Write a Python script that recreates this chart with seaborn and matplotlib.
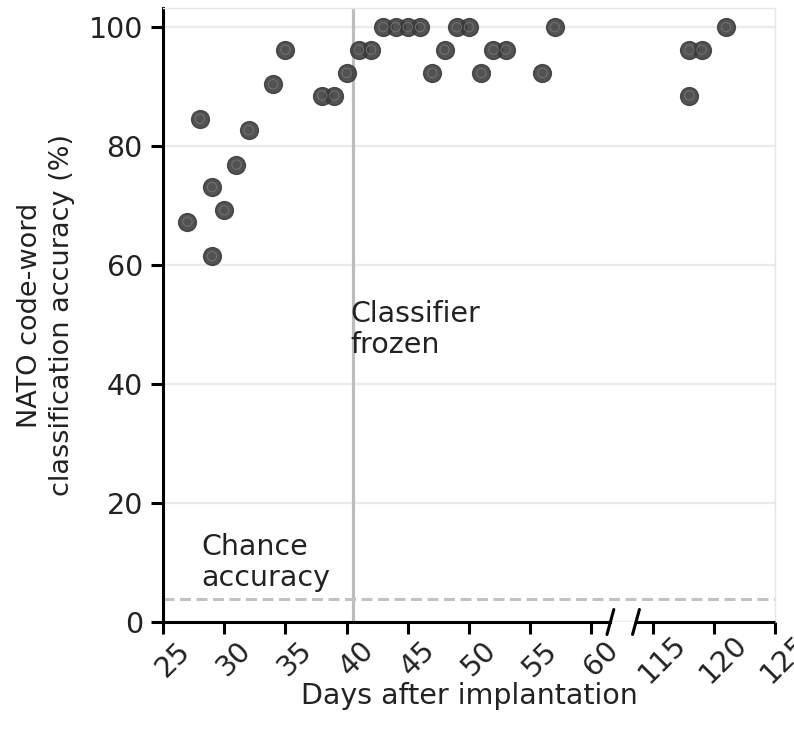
import numpy as np
import pandas as pd
import seaborn as sns
import matplotlib
matplotlib.use("Agg")
import matplotlib.pyplot as plt

# ---- data ----
days = [27, 28, 29, 29, 30, 31, 32, 34, 35, 38, 39, 40, 41, 42, 43, 44, 45, 46,
        47, 48, 49, 50, 51, 52, 53, 56, 57, 118, 118, 119, 121]
accuracy = [67.3, 84.6, 73.1, 61.5, 69.2, 76.9, 82.7, 90.4, 96.2, 88.5, 88.5,
            92.3, 96.2, 96.2, 100, 100, 100, 100, 92.3, 96.2, 100, 100, 92.3,
            96.2, 96.2, 92.3, 100, 96.2, 88.5, 96.2, 100]
x_ticks = [25, 30, 35, 40, 45, 50, 55, 60, 115, 120, 125]
y_ticks = [0, 20, 40, 60, 80, 100]
chance_accuracy = 100 / 26
frozen_day = 40.5

# broken x axis: days after 60 are shifted so that 115 sits 5 days after 60
break_lo, break_hi, gap = 60, 115, 5


def compress(d):
    d = np.asarray(d, dtype=float)
    return np.where(d > break_lo, d - (break_hi - break_lo) + gap, d)


df = pd.DataFrame({"day": days, "accuracy": accuracy})
df["plot_day"] = compress(df["day"])

sns.set_style("white")
plt.rcParams["font.family"] = ["DejaVu Sans"]
TXT = "#222222"
FS = 20.5

fig = plt.figure(figsize=(7.94, 7.38), dpi=100)
ax = fig.add_axes([0.2053, 0.1572, 0.7708, 0.8318])

xmin, xmax = compress([25])[0], compress([125])[0]
ax.set_xlim(xmin, xmax)
ax.set_ylim(0, 103.2)

# grid
ax.yaxis.grid(True, color="#ebebeb", lw=1.6)
ax.xaxis.grid(False)
ax.set_axisbelow(True)

# reference lines
ax.axvline(frozen_day, color="#bdbdbd", lw=2.3, zorder=1)
ax.axhline(chance_accuracy, color="#c2c2c2", lw=2.2, ls=(0, (3.6, 1.8)), zorder=1)

# points
sns.scatterplot(data=df, x="plot_day", y="accuracy", ax=ax, s=165,
                color="#3a3a3a", edgecolor="#3a3a3a", linewidth=1.0, alpha=0.88,
                zorder=3, legend=False)
sns.scatterplot(data=df, x="plot_day", y="accuracy", ax=ax, s=45,
                facecolor="none", edgecolor="#747474", linewidth=0.7,
                zorder=4, legend=False)

# annotations
ax.text(28.1, 15.0, "Chance\naccuracy", fontsize=FS, color=TXT, va="top",
        ha="left", linespacing=1.15)
ax.text(40.3, 54.2, "Classifier\nfrozen", fontsize=FS, color=TXT, va="top",
        ha="left", linespacing=1.15)

# spines
for s in ["top", "right"]:
    ax.spines[s].set_color("#e6e6e6")
    ax.spines[s].set_linewidth(1.0)
for s in ["left", "bottom"]:
    ax.spines[s].set_color("black")
    ax.spines[s].set_linewidth(2.2)

b1, b2 = 61.55, 63.64
ax.spines["bottom"].set_bounds(xmin, b1)
ax.plot([b2, xmax], [0, 0], color="black", lw=2.2, clip_on=False,
        solid_capstyle="butt", zorder=5)
for bx in (b1, b2):
    ax.plot([bx - 0.28, bx + 0.28], [-2.1, 2.1], color="black", lw=2.2,
            clip_on=False, zorder=6)

# ticks
ax.set_xticks(compress(x_ticks))
ax.set_xticklabels([str(t) for t in x_ticks])
ax.set_yticks(y_ticks)
ax.set_yticklabels([str(t) for t in y_ticks])
ax.tick_params(axis="both", which="major", direction="out", length=8.5,
               width=2.2, color="black", labelsize=FS, labelcolor=TXT,
               bottom=True, left=True)
ax.tick_params(axis="x", pad=11)
ax.tick_params(axis="y", pad=6)
for lab in ax.get_xticklabels():
    lab.set_rotation(45)
    lab.set_rotation_mode("anchor")
    lab.set_ha("center")
    lab.set_va("top")

ax.set_xlabel("Days after implantation", fontsize=FS, color=TXT)
ax.xaxis.set_label_coords(0.5, -0.097)
ax.set_ylabel("NATO code-word\nclassification accuracy (%)", fontsize=19.5,
              color=TXT, linespacing=1.3)
ax.yaxis.set_label_coords(-0.1438, 0.5)

fig.savefig("out.png", dpi=100, facecolor="white")
